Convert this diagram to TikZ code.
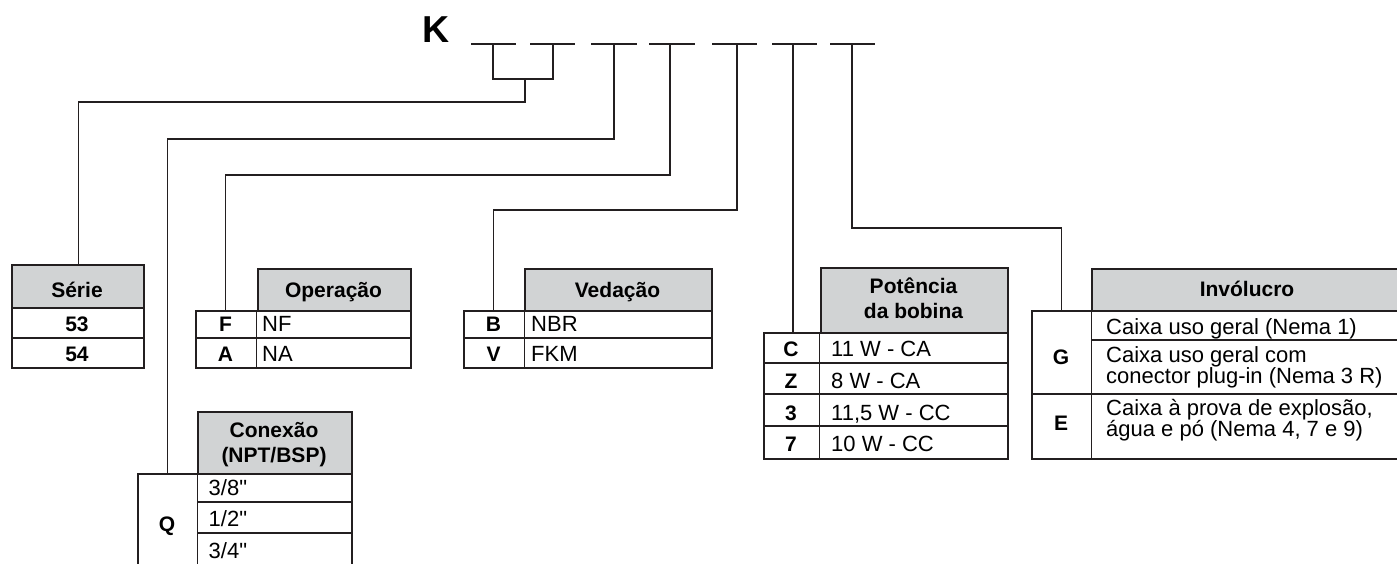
\documentclass[tikz,border=0pt]{standalone}
\usepackage{fontspec}
\setmainfont{Liberation Sans}[Ligatures=TeXOff]
\definecolor{ink}{RGB}{35,31,32}
\definecolor{hdrgray}{RGB}{209,211,212}
\newcommand\fs{\fontsize{21}{24}\selectfont}
\newcommand\fv{\fontsize{22}{24}\selectfont}
\begin{document}
\begin{tikzpicture}[x=1pt,y=-1pt,
  box/.style={draw=ink,line width=2.4pt,inner sep=0pt,anchor=north west},
  hdrbox/.style={box,fill=hdrgray},
  ghost/.style={inner sep=0pt,anchor=north west},
  thinl/.style={draw=ink,line width=1.2pt},
  conn/.style={draw=ink,line width=1.2pt},
  dashseg/.style={draw=ink,line width=2.6pt},
  hd/.style={font=\bfseries\fs,inner sep=0pt,anchor=base},
  lt/.style={font=\bfseries\fs,inner sep=0pt,anchor=base},
  val/.style={font=\fv,inner sep=0pt,anchor=base west}]
\clip (0,0) rectangle (1397,563);
\path[use as bounding box] (0,0) rectangle (1397,563);

% title
\node[font=\bfseries\fontsize{37.5}{40}\selectfont,inner sep=0pt,anchor=base west] (K) at (422,42) {K};
\foreach \a/\b/\n in {471/516/1,530/575/2,591/637/3,649/695/4,712/757/5,772/817/6,830/875/7}{
  \coordinate (p\n a) at (\a,44);
  \coordinate (p\n b) at (\b,44);
  \draw[dashseg] (p\n a) -- (p\n b);
}
\coordinate (d1) at (493,44);
\coordinate (d2) at (553,44);
\coordinate (br) at (525,79);
\coordinate (d3) at (614,44);
\coordinate (d4) at (670,44);
\coordinate (d5) at (737,44);
\coordinate (d6) at (793,44);
\coordinate (d7) at (852,44);

% Serie
\node[hdrbox,minimum width=132pt,minimum height=43pt] (serH) at (11,264) {};
\node[box,minimum width=132pt,minimum height=60pt] (serR) at (11,307) {};
\draw[thinl] (11,338) -- (143,338);
\node[hd] (serT) at (77,297) {Série};
\node[lt] (ser1) at (77,331.5) {53};
\node[lt] (ser2) at (77,361.5) {54};

% Operacao
\node[hdrbox,minimum width=153pt,minimum height=42pt] (opH) at (257,268) {};
\node[box,minimum width=215pt,minimum height=57pt] (opR) at (195,310) {};
\node[ghost,minimum width=61pt,minimum height=57pt] (opL) at (195,310) {};
\draw[thinl] (opL.north east) -- (opL.south east);
\draw[thinl] (195,338) -- (410,338);
\node[hd] (opT) at (333.5,297) {Operação};
\node[lt] (op1) at (225.5,331.5) {F};
\node[val] (op1v) at (262,331.5) {NF};
\node[lt] (op2) at (225.5,361) {A};
\node[val] (op2v) at (262,361) {NA};

% Vedacao
\node[hdrbox,minimum width=187pt,minimum height=42pt] (veH) at (524,268) {};
\node[box,minimum width=248pt,minimum height=57pt] (veR) at (463,310) {};
\node[ghost,minimum width=61pt,minimum height=57pt] (veL) at (463,310) {};
\draw[thinl] (veL.north east) -- (veL.south east);
\draw[thinl] (463,338) -- (711,338);
\node[hd] (veT) at (617.5,297) {Vedação};
\node[lt] (ve1) at (493.5,331.5) {B};
\node[val] (ve1v) at (531,331.5) {NBR};
\node[lt] (ve2) at (493.5,361) {V};
\node[val] (ve2v) at (531,361) {FKM};

% Potencia
\node[hdrbox,minimum width=187pt,minimum height=65pt] (poH) at (820,267) {};
\node[box,minimum width=244pt,minimum height=126pt] (poR) at (763,332) {};
\node[ghost,minimum width=56pt,minimum height=126pt] (poL) at (763,332) {};
\draw[thinl] (poL.north east) -- (poL.south east);
\foreach \y in {363,394,426}{\draw[thinl] (763,\y) -- (1007,\y);}
\node[hd] (poT1) at (913.5,293.5) {Potência};
\node[hd] (poT2) at (913.5,318.5) {da bobina};
\node[lt] (po1) at (791,356) {C};
\node[val] (po1v) at (831,356) {11 W - CA};
\node[lt] (po2) at (791,388) {Z};
\node[val] (po2v) at (831,388) {8 W - CA};
\node[lt] (po3) at (791,420) {3};
\node[val] (po3v) at (831,420) {11,5 W - CC};
\node[lt] (po4) at (791,451.5) {7};
\node[val] (po4v) at (831,451.5) {10 W - CC};

% Involucro
\node[hdrbox,minimum width=312pt,minimum height=42pt] (inH) at (1091,268) {};
\node[box,minimum width=372pt,minimum height=148pt] (inR) at (1031,310) {};
\node[ghost,minimum width=60pt,minimum height=148pt] (inL) at (1031,310) {};
\draw[thinl] (inL.north east) -- (inL.south east);
\draw[thinl] (1091,340) -- (1403,340);
\draw[thinl] (1031,394) -- (1403,394);
\node[hd] (inT) at (1247,296) {Invólucro};
\node[lt] (in1) at (1061,364) {G};
\node[val] (in1a) at (1106,334) {Caixa uso geral (Nema 1)};
\node[val] (in1b) at (1106,362.5) {Caixa uso geral com};
\node[val] (in1c) at (1106,383.5) {conector plug-in (Nema 3 R)};
\node[lt] (in2) at (1061,430) {E};
\node[val] (in2a) at (1106,415) {Caixa à prova de explosão,};
\node[val] (in2b) at (1106,436.5) {água e pó (Nema 4, 7 e 9)};

% Conexao
\node[hdrbox,minimum width=154pt,minimum height=62pt] (coH) at (197,411) {};
\node[box,minimum width=214pt,minimum height=110pt] (coR) at (137,473) {};
\node[ghost,minimum width=60pt,minimum height=110pt] (coL) at (137,473) {};
\draw[thinl] (coL.north east) -- (coL.south east);
\draw[thinl] (197,502) -- (351,502);
\draw[thinl] (197,533) -- (351,533);
\node[hd] (coT1) at (274,437) {Conexão};
\node[hd] (coT2) at (274,462) {(NPT/BSP)};
\node[lt] (co1) at (167,531.5) {Q};
\node[val] (co1a) at (208.5,495) {3/8"};
\node[val] (co1b) at (208.5,526.5) {1/2"};
\node[val] (co1c) at (208.5,558) {3/4"};

% connectors
\draw[conn] (d1) |- (br) -| (d2);
\draw[conn] (br) -- ++(0,23) -| (serH.north);
\draw[conn] (d3) -- ++(0,95) -| (coL.north);
\draw[conn] (d4) -- ++(0,131) -| (opL.north);
\draw[conn] (d5) -- ++(0,166) -| (veL.north);
\draw[conn] (d6) -- (d6 |- poL.north);
\draw[conn] (d7) -- ++(0,184) -| (inL.north);
\end{tikzpicture}
\end{document}
